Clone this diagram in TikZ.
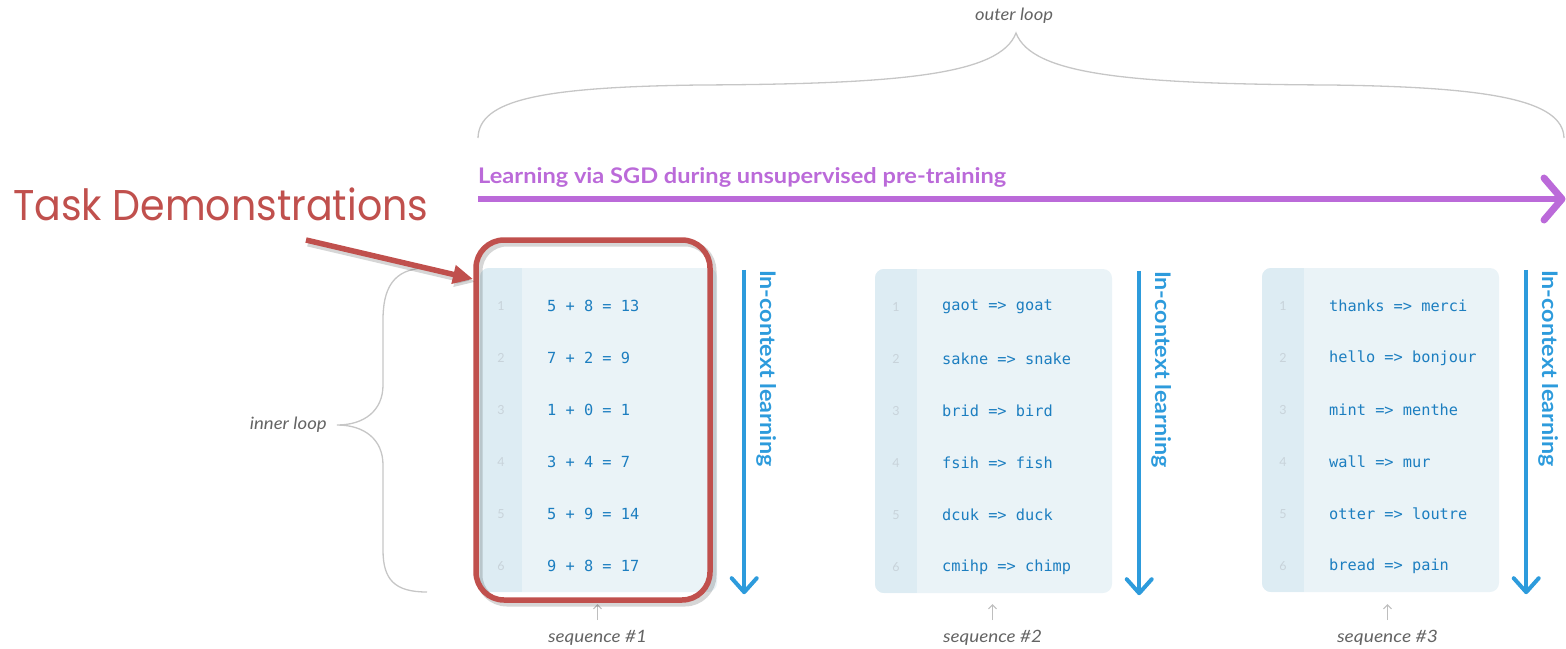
\documentclass[tikz,border=0pt]{standalone}
\usepackage{fontspec}
\usepackage{graphicx}
\setmainfont{Lato}
\newfontfamily\taskfont{Poppins}
\newfontfamily\codefont{DejaVu Sans Mono}
\usetikzlibrary{arrows.meta,calc}

\definecolor{panelfill}{RGB}{234,243,247}
\definecolor{gutterfill}{RGB}{221,236,243}
\definecolor{numgray}{RGB}{200,211,218}
\definecolor{codeblue}{RGB}{28,126,192}
\definecolor{iclblue}{RGB}{45,155,220}
\definecolor{sgdpurple}{RGB}{187,106,217}
\definecolor{demored}{RGB}{192,80,77}
\definecolor{bracegray}{RGB}{198,198,198}
\definecolor{notegray}{RGB}{100,100,100}
\definecolor{seqarrow}{RGB}{190,190,190}

\tikzset{
  panelbox/.style={fill=panelfill, rounded corners=9pt, minimum width=237pt,
    minimum height=324pt, inner sep=0pt, draw=none},
  lineno/.style={font=\fontsize{12.5}{12.5}\selectfont, text=numgray, inner sep=0pt},
  codetext/.style={font=\codefont\fontsize{15.3}{16}\selectfont, text=codeblue,
    inner sep=0pt, anchor=west},
  iclline/.style={draw=iclblue, line width=4pt},
  iclhead/.style={draw=iclblue, line width=4pt, line cap=round, line join=round},
  icltext/.style={font=\bfseries\fontsize{21.5}{21.5}\selectfont, text=iclblue,
    inner sep=0pt, rotate=-90, anchor=west},
  notetext/.style={font=\itshape\fontsize{17}{17}\selectfont, text=notegray, inner sep=0pt},
  seqtick/.style={draw=seqarrow, line width=1pt, -{Straight Barb[length=4pt,width=8pt]}},
  bracestroke/.style={draw=bracegray, line width=1.3pt},
  redline/.style={draw=demored, line width=5.5pt},
  redshadow/.style={draw=black, opacity=0.16, line width=7pt},
}

% one code panel: name, left x, top y, list of lines
\newcommand\codepanel[4]{%
  \node[panelbox] (#1) at (#2+118.5, #3+162) {};
  \begin{scope}
    \clip[rounded corners=9pt] (#2,#3) rectangle ++(237,324);
    \fill[gutterfill] (#2,#3) rectangle ++(42,324);
  \end{scope}
  \foreach \codeline [count=\i] in {#4} {
    \node[lineno] (#1-n\i) at (#2+21, #3+38+52*\i-52) {\i};
    \node[codetext] (#1-c\i) at (#2+67, #3+38+52*\i-52) {\codeline};
  }
}

\begin{document}
\begin{tikzpicture}[x=1pt,y=-1pt]
\useasboundingbox (0,0) rectangle (1566,648);

% outer brace and its label
\node[notetext] (outerlabel) at (1014,16) {\resizebox{78pt}{\height}{outer loop}};
\draw[bracestroke] (478,138) .. controls (479,100) and (540,87) .. (700,85)
  .. controls (900,84) and (1000,75) .. (1016,33)
  .. controls (1032,75) and (1130,84) .. (1330,85)
  .. controls (1490,87) and (1563,100) .. (1564,138);

% pre-training arrow
\node[font=\bfseries\fontsize{21.5}{21.5}\selectfont, text=sgdpurple, inner sep=0pt,
  anchor=base west] (sgdlabel) at (478,183.5)
  {\resizebox{528pt}{\height}{Learning via SGD during unsupervised pre-training}};
\coordinate (sgdstart) at (478,199);
\coordinate (sgdend) at (1562,199);
\draw[draw=sgdpurple, line width=6.5pt] (sgdstart) -- (sgdend);
\draw[draw=sgdpurple, line width=7pt, line cap=round, line join=round]
  ($(sgdend)+(-18,-21)$) -- (sgdend) -- ($(sgdend)+(-18,21)$);

% code panels
\codepanel{p1}{480}{268}{5 + 8 = 13,7 + 2 = 9,1 + 0 = 1,3 + 4 = 7,5 + 9 = 14,9 + 8 = 17}
\codepanel{p2}{875}{269}{gaot => goat,sakne => snake,brid => bird,fsih => fish,dcuk => duck,cmihp => chimp}
\codepanel{p3}{1262}{268}{thanks => merci,hello => bonjour,mint => menthe,wall => mur,otter => loutre,bread => pain}

% in-context learning arrows
\foreach \p in {p1,p2,p3} {
  \coordinate (\p-icltop) at ($(\p.north east)+(27,2)$);
  \coordinate (\p-iclbot) at ($(\p.south east)+(27,0)$);
  \draw[iclline] (\p-icltop) -- ($(\p-iclbot)+(0,-2)$);
  \draw[iclhead] ($(\p-iclbot)+(-12.5,-14)$) -- (\p-iclbot) -- ($(\p-iclbot)+(12.5,-14)$);
  \node[icltext] (\p-icllabel) at ($(\p-icltop)+(22,0)$)
    {\resizebox{197pt}{\height}{In-context learning}};
}

% sequence markers
\coordinate (s1a) at ($(p1.south)+(-1,28)$);
\coordinate (s1b) at ($(p1.south)+(-1,12)$);
\coordinate (s2a) at ($(p2.south)+(-1,27)$);
\coordinate (s2b) at ($(p2.south)+(-1,11)$);
\coordinate (s3a) at ($(p3.south)+(7,28)$);
\coordinate (s3b) at ($(p3.south)+(7,12)$);
\draw[seqtick] (s1a) -- (s1b);
\draw[seqtick] (s2a) -- (s2b);
\draw[seqtick] (s3a) -- (s3b);
\node[notetext] (seq1) at ($(s1a)+(0,18)$) {\resizebox{99pt}{\height}{sequence \#1}};
\node[notetext] (seq2) at ($(s2a)+(0,18)$) {\resizebox{99pt}{\height}{sequence \#2}};
\node[notetext] (seq3) at ($(s3a)+(0,18)$) {\resizebox{101pt}{\height}{sequence \#3}};

% inner brace and its label
\draw[bracestroke] (427,268) .. controls (392,268) and (383,290) .. (383,320)
  -- (383,385) .. controls (383,410) and (365,425) .. (337,425)
  .. controls (365,425) and (383,440) .. (383,465)
  -- (383,550) .. controls (383,580) and (395,592) .. (427,592);
\node[notetext, anchor=east] (innerlabel) at (327,425) {\resizebox{77pt}{\height}{inner loop}};

% highlighted demonstrations
\draw[redshadow, rounded corners=28pt] (479,243) rectangle (713,603);
\node[draw=demored, line width=5.5pt, rounded corners=28pt, minimum width=234pt,
  minimum height=360pt, inner sep=0pt] (demo) at (593,420) {};
\node[font=\taskfont\fontsize{43}{43}\selectfont, text=demored, inner sep=0pt,
  anchor=base west] (tasklabel) at (13,220)
  {\resizebox{415pt}{\height}{Task Demonstrations}};
\coordinate (tasktail) at (306,240);
\coordinate (tasktip) at (473,279);
\draw[redshadow, -{Triangle[length=20pt,width=18pt]}] ($(tasktail)+(2,3)$) -- ($(tasktip)+(2,3)$);
\draw[redline, -{Triangle[length=20pt,width=18pt]}] (tasktail) -- (tasktip);

\end{tikzpicture}
\end{document}
